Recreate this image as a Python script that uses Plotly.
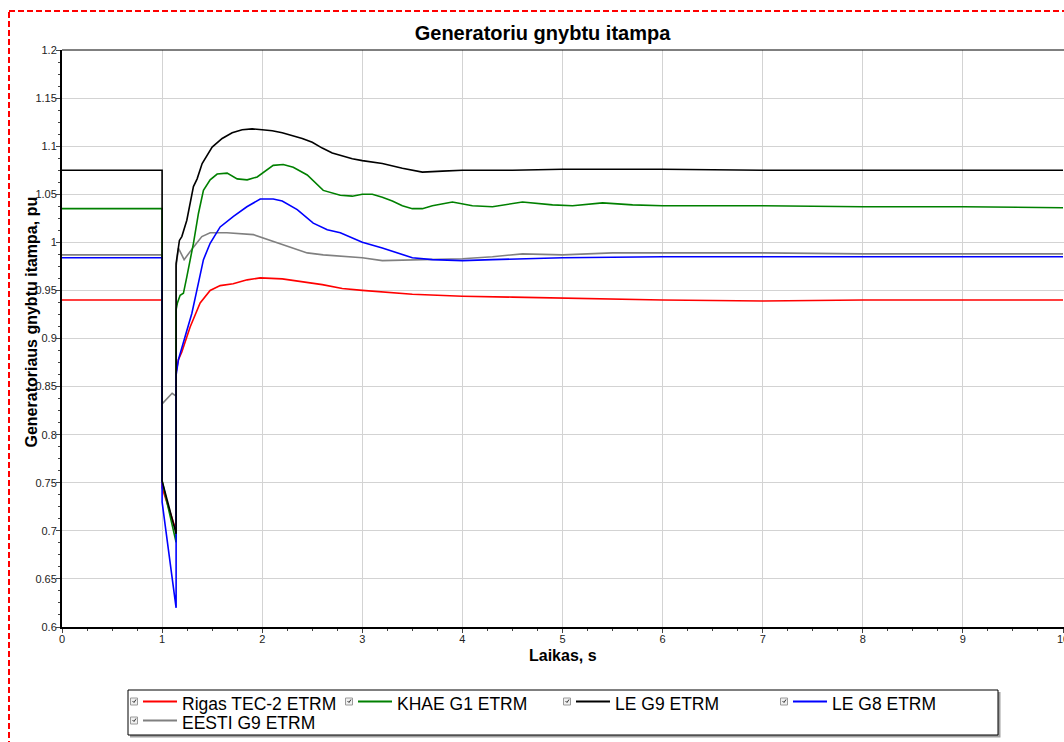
import plotly.graph_objects as go

# ---------------- data ----------------
series_names = ["Rigas TEC-2 ETRM", "KHAE G1 ETRM", "LE G9 ETRM", "LE G8 ETRM", "EESTI G9 ETRM"]
series_colors = ["#ff0000", "#008000", "#000000", "#0000ff", "#808080"]

t_rigas = [0, 1.0, 1.0, 1.14, 1.14, 1.163, 1.197, 1.28, 1.38, 1.48, 1.58, 1.71, 1.85, 1.98,
           2.2, 2.4, 2.6, 2.8, 3.0, 3.5, 4.0, 4.5, 5.0, 6.0, 7.0, 8.0, 9.0, 10.0]
v_rigas = [0.940, 0.940, 0.745, 0.700, 0.865, 0.878, 0.886, 0.912, 0.937, 0.950, 0.955, 0.957,
           0.961, 0.963, 0.962, 0.959, 0.956, 0.952, 0.950, 0.946, 0.944, 0.943, 0.942, 0.940,
           0.939, 0.940, 0.940, 0.940]

t_khae = [0, 1.0, 1.0, 1.14, 1.14, 1.153, 1.18, 1.213, 1.247, 1.313, 1.363, 1.413, 1.48, 1.55,
          1.65, 1.75, 1.85, 1.95, 2.11, 2.21, 2.31, 2.45, 2.61, 2.78, 2.9, 3.0, 3.1, 3.2, 3.3,
          3.4, 3.5, 3.6, 3.7, 3.9, 4.1, 4.3, 4.6, 4.9, 5.1, 5.4, 5.7, 6.0, 7.0, 8.0, 9.0, 10.0]
v_khae = [1.035, 1.035, 0.752, 0.688, 0.930, 0.937, 0.945, 0.947, 0.964, 0.999, 1.030, 1.054,
          1.065, 1.071, 1.072, 1.066, 1.065, 1.068, 1.080, 1.081, 1.078, 1.070, 1.054, 1.049,
          1.048, 1.050, 1.050, 1.047, 1.043, 1.038, 1.035, 1.035, 1.038, 1.042, 1.038, 1.037,
          1.042, 1.039, 1.038, 1.041, 1.039, 1.038, 1.038, 1.037, 1.037, 1.036]

t_leg9 = [0, 1.0, 1.0, 1.14, 1.14, 1.173, 1.197, 1.247, 1.313, 1.35, 1.4, 1.5, 1.6, 1.7, 1.8,
          1.9, 2.0, 2.1, 2.2, 2.3, 2.4, 2.5, 2.6, 2.7, 2.8, 2.9, 3.0, 3.2, 3.4, 3.6, 3.8, 4.0,
          4.5, 5.0, 6.0, 7.0, 8.0, 9.0, 10.0]
v_leg9 = [1.075, 1.075, 0.752, 0.697, 0.978, 1.002, 1.006, 1.023, 1.058, 1.066, 1.082, 1.099,
          1.108, 1.114, 1.117, 1.118, 1.117, 1.116, 1.114, 1.111, 1.108, 1.104, 1.098, 1.093,
          1.090, 1.087, 1.085, 1.082, 1.077, 1.073, 1.074, 1.075, 1.075, 1.076, 1.076, 1.075,
          1.075, 1.075, 1.075]

t_leg8 = [0, 1.0, 1.0, 1.14, 1.14, 1.163, 1.23, 1.297, 1.347, 1.413, 1.48, 1.58, 1.713, 1.847,
          1.98, 2.11, 2.2, 2.35, 2.51, 2.65, 2.78, 3.0, 3.2, 3.5, 3.7, 4.0, 4.3, 5.0, 6.0, 7.0,
          8.0, 9.0, 10.0]
v_leg8 = [0.984, 0.984, 0.730, 0.620, 0.862, 0.878, 0.902, 0.926, 0.950, 0.982, 0.999, 1.016,
          1.027, 1.037, 1.045, 1.045, 1.043, 1.034, 1.020, 1.013, 1.010, 1.000, 0.994, 0.984,
          0.982, 0.981, 0.982, 0.984, 0.985, 0.985, 0.985, 0.985, 0.985]

t_eesti = [0, 1.0, 1.0, 1.05, 1.1, 1.14, 1.14, 1.163, 1.22, 1.313, 1.397, 1.48, 1.647, 1.913,
           2.08, 2.18, 2.28, 2.45, 2.61, 2.78, 3.0, 3.2, 3.5, 4.0, 4.3, 4.6, 5.0, 5.5, 6.0, 7.0,
           8.0, 9.0, 10.0]
v_eesti = [0.987, 0.987, 0.832, 0.838, 0.843, 0.840, 0.975, 0.994, 0.982, 0.995, 1.006, 1.010,
           1.010, 1.008, 1.002, 0.999, 0.995, 0.989, 0.987, 0.986, 0.984, 0.981, 0.982, 0.983,
           0.985, 0.988, 0.987, 0.989, 0.989, 0.989, 0.988, 0.988, 0.988]

series_t = [t_rigas, t_khae, t_leg9, t_leg8, t_eesti]
series_v = [v_rigas, v_khae, v_leg9, v_leg8, v_eesti]

x_ticks = [0, 1, 2, 3, 4, 5, 6, 7, 8, 9, 10]
y_ticks = [0.6, 0.65, 0.7, 0.75, 0.8, 0.85, 0.9, 0.95, 1.0, 1.05, 1.1, 1.15, 1.2]
y_tick_text = ["0.6", "0.65", "0.7", "0.75", "0.8", "0.85", "0.9", "0.95", "1", "1.05", "1.1", "1.15", "1.2"]

title_text = "Generatoriu gnybtu itampa"
x_title = "Laikas, s"
y_title = "Generatoriaus gnybtu itampa, pu"

# ---------------- layout geometry ----------------
W, H = 1064, 742
L, T = 62, 50
PW, PH = W - L, 577
B = H - T - PH
FONT = "Arial, Liberation Sans, sans-serif"


def pxx(x):
    return (x - L) / PW


def pxy(y):
    return (T + PH - y) / PH


fig = go.Figure()
draw_order = [4, 0, 1, 3, 2]
for i in draw_order:
    fig.add_trace(go.Scatter(
        x=series_t[i], y=series_v[i], mode="lines", name=series_names[i],
        line=dict(color=series_colors[i], width=1.6), showlegend=False,
    ))

shapes = []
annotations = []

# red dashed outer frame
shapes.append(dict(type="rect", xref="paper", yref="paper",
                   x0=pxx(9), x1=pxx(1100), y0=pxy(11), y1=pxy(800),
                   line=dict(color="#ff0000", width=2, dash="6px,3px"), layer="above"))

# top border of plot
shapes.append(dict(type="line", xref="paper", yref="paper", x0=0, x1=1, y0=1, y1=1,
                   line=dict(color="black", width=1)))

# legend box with shadow
shapes.append(dict(type="rect", xref="paper", yref="paper",
                   x0=pxx(130), x1=pxx(1000.5), y0=pxy(692), y1=pxy(737.5),
                   fillcolor="#a0a0a0", line=dict(width=0)))
shapes.append(dict(type="rect", xref="paper", yref="paper",
                   x0=pxx(128), x1=pxx(998), y0=pxy(690), y1=pxy(735),
                   fillcolor="white", line=dict(color="black", width=1)))

col_x = [130, 345, 563, 780]
row_y = [703, 722]
for i, name in enumerate(series_names):
    cx = col_x[i % 4]
    cy = row_y[i // 4]
    # checkbox
    shapes.append(dict(type="rect", xref="paper", yref="paper",
                       x0=pxx(cx + 0.5), x1=pxx(cx + 7.5), y0=pxy(cy - 5), y1=pxy(cy + 2),
                       fillcolor="#f0f0f0", line=dict(color="#9a9a9a", width=1)))
    shapes.append(dict(type="path", xref="paper", yref="paper",
                       path=f"M {pxx(cx + 2.5)},{pxy(cy - 2)} L {pxx(cx + 4)},{pxy(cy - 0.5)} L {pxx(cx + 6)},{pxy(cy - 3.5)}",
                       line=dict(color="#303030", width=1)))
    # line sample
    shapes.append(dict(type="line", xref="paper", yref="paper",
                       x0=pxx(cx + 13), x1=pxx(cx + 47), y0=pxy(cy - 1.5), y1=pxy(cy - 1.5),
                       line=dict(color=series_colors[i], width=2)))
    annotations.append(dict(text=name, xref="paper", yref="paper",
                            x=pxx(cx + 50), y=pxy(cy + 1), xanchor="left", yanchor="middle",
                            showarrow=False, font=dict(family=FONT, size=17.5, color="black")))

# axis titles
annotations.append(dict(text=f"<b>{y_title}</b>", xref="paper", yref="paper",
                        x=pxx(31), y=pxy(322.5), xanchor="center", yanchor="middle",
                        textangle=-90, showarrow=False,
                        font=dict(family=FONT, size=16, color="black")))
annotations.append(dict(text=f"<b>{x_title}</b>", xref="paper", yref="paper",
                        x=pxx(562.5), y=pxy(655), xanchor="center", yanchor="middle",
                        showarrow=False, font=dict(family=FONT, size=16, color="black")))

fig.update_layout(
    width=W, height=H,
    margin=dict(l=L, r=0, t=T, b=B, pad=0, autoexpand=False),
    paper_bgcolor="white", plot_bgcolor="white",
    showlegend=False,
    title=dict(text=f"<b>{title_text}</b>", x=542.5 / W, xref="container", xanchor="center",
               y=1 - 32.5 / H, yref="container", yanchor="middle", automargin=False,
               font=dict(family=FONT, size=20, color="black")),
    font=dict(family=FONT, size=11, color="#222222"),
    shapes=shapes, annotations=annotations,
)

fig.update_xaxes(
    range=[0, 10.01], tickvals=x_ticks, ticktext=[str(v) for v in x_ticks],
    automargin=False,
    showgrid=True, gridcolor="#d3d3d3", gridwidth=1, zeroline=False,
    showline=True, linecolor="black", linewidth=2,
    ticks="outside", ticklen=4, tickcolor="#444", tickwidth=1,
    minor=dict(dtick=0.25, ticks="outside", ticklen=2, tickcolor="#444", showgrid=False),
    tickfont=dict(family=FONT, size=11, color="#222222"),
    ticklabelstandoff=-3, ticklabeloverflow="allow",
)
fig.update_yaxes(
    range=[0.6, 1.2], tickvals=y_ticks, ticktext=y_tick_text,
    automargin=False,
    showgrid=True, gridcolor="#d3d3d3", gridwidth=1, zeroline=False,
    showline=True, linecolor="black", linewidth=2,
    ticks="outside", ticklen=4, tickcolor="#444", tickwidth=1,
    minor=dict(dtick=0.0125, ticks="outside", ticklen=2, tickcolor="#444", showgrid=False),
    tickfont=dict(family=FONT, size=11, color="#222222"),
    ticklabelstandoff=-3, ticklabeloverflow="allow",
)

fig.write_html(
    "out.html",
    config={"displayModeBar": False},
    post_script="document.body.style.margin='0';document.body.style.overflow='hidden';",
)
